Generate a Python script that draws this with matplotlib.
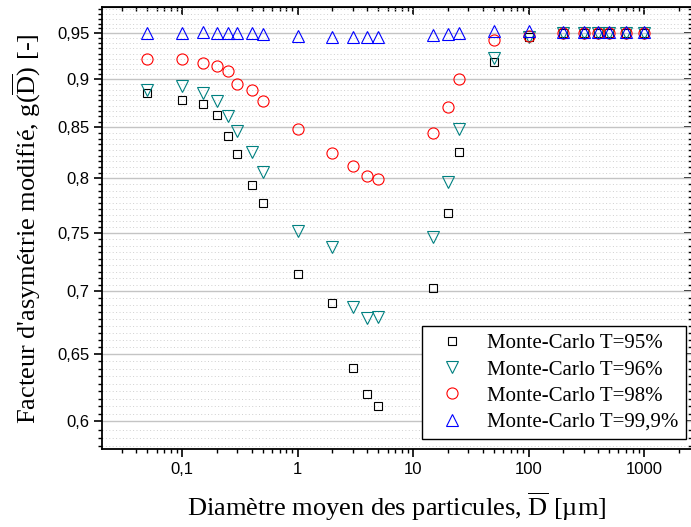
import numpy as np
import matplotlib
matplotlib.use('Agg')
from matplotlib import pyplot as plt
from matplotlib.ticker import FixedLocator, LogLocator, NullFormatter

plt.rcParams['mathtext.fontset'] = 'custom'
plt.rcParams['mathtext.rm'] = 'Liberation Serif'

# particle mean diameters (um)
diam = [0.05, 0.1, 0.15, 0.2, 0.25, 0.3, 0.4, 0.5, 1, 2, 3, 4, 5,
        15, 20, 25, 50, 100, 200, 300, 400, 500, 700, 1000]

g_95 = [0.885, 0.878, 0.874, 0.862, 0.841, 0.823, 0.794, 0.777, 0.714, 0.690,
        0.639, 0.620, 0.611, 0.703, 0.768, 0.825, 0.918, 0.946,
        0.950, 0.950, 0.950, 0.950, 0.950, 0.950]
g_96 = [0.888, 0.893, 0.885, 0.877, 0.861, 0.846, 0.825, 0.806, 0.752, 0.738,
        0.687, 0.678, 0.679, 0.746, 0.797, 0.848, 0.923, 0.946,
        0.950, 0.950, 0.950, 0.950, 0.950, 0.950]
g_98 = [0.921, 0.921, 0.917, 0.914, 0.908, 0.895, 0.888, 0.877, 0.848, 0.824,
        0.812, 0.802, 0.799, 0.844, 0.871, 0.900, 0.942, 0.947,
        0.950, 0.950, 0.950, 0.950, 0.950, 0.950]
g_999 = [0.950, 0.950, 0.951, 0.950, 0.950, 0.950, 0.950, 0.949, 0.947, 0.946,
         0.946, 0.946, 0.946, 0.948, 0.949, 0.950, 0.952, 0.952,
         0.951, 0.951, 0.951, 0.951, 0.951, 0.951]

labels = ['Monte-Carlo T=95%', 'Monte-Carlo T=96%',
          'Monte-Carlo T=98%', 'Monte-Carlo T=99,9%']

y_ticks = [0.6, 0.65, 0.7, 0.75, 0.8, 0.85, 0.9, 0.95]
y_ticklabels = ['0,6', '0,65', '0,7', '0,75', '0,8', '0,85', '0,9', '0,95']
x_ticks = [0.1, 1, 10, 100, 1000]
x_ticklabels = ['0,1', '1', '10', '100', '1000']

fig = plt.figure(figsize=(6.91, 5.27), dpi=100)
ax = fig.add_axes([0.1476, 0.1471, 0.8538, 0.8391])

series = [
    (g_95, 's', '#000000', 6.0),
    (g_96, 'v', '#008080', 8.0),
    (g_98, 'o', '#ff0000', 8.0),
    (g_999, '^', '#0000ff', 8.0),
]
for (vals, mk, col, ms), lab in zip(series, labels):
    ax.plot(diam, vals, linestyle='none', marker=mk, markersize=ms,
            markerfacecolor='none', markeredgecolor=col,
            markeredgewidth=0.8, label=lab)

ax.set_xscale('log')
ax.set_yscale('log')
ax.set_xlim(0.0202, 2600)
ax.set_ylim(0.5804, 0.9797)

# y minor ticks: 8 evenly spaced (log) between majors
majors = [0.55 + 0.05 * i for i in range(10)]
minors = []
for a, b in zip(majors[:-1], majors[1:]):
    for k in range(1, 9):
        minors.append(a * (b / a) ** (k / 9))
ax.yaxis.set_major_locator(FixedLocator(y_ticks))
ax.yaxis.set_minor_locator(FixedLocator(minors))
ax.set_yticks(y_ticks, y_ticklabels)
ax.yaxis.set_minor_formatter(NullFormatter())
ax.xaxis.set_major_locator(FixedLocator(x_ticks))
ax.set_xticks(x_ticks, x_ticklabels)
ax.xaxis.set_minor_locator(LogLocator(base=10, subs=np.arange(2, 10)))
ax.xaxis.set_minor_formatter(NullFormatter())

ax.grid(True, which='major', axis='y', color='#c4c4c4', linewidth=1.0)
ax.grid(True, which='minor', axis='y', color='#cfcfcf', linewidth=0.7,
        linestyle=(0, (1, 2.5)))
ax.set_axisbelow(True)

for s in ax.spines.values():
    s.set_linewidth(1.3)
ax.tick_params(axis='both', which='major', direction='out', length=6,
               width=1.2, labelsize=12, pad=3)
ax.tick_params(axis='both', which='minor', direction='out', length=3, width=1.0)
for lab in ax.get_xticklabels() + ax.get_yticklabels():
    lab.set_family('Liberation Sans')

# mirrored ticks on top and right, pointing inward
top = ax.secondary_xaxis('top')
top.set_xticks(x_ticks, [])
top.xaxis.set_minor_locator(LogLocator(base=10, subs=np.arange(2, 10)))
top.xaxis.set_minor_formatter(NullFormatter())
top.tick_params(which='major', direction='in', length=6, width=1.2)
top.tick_params(which='minor', direction='in', length=3, width=1.0)
right = ax.secondary_yaxis('right')
right.set_yticks(y_ticks, [])
right.yaxis.set_minor_locator(FixedLocator(minors))
right.yaxis.set_minor_formatter(NullFormatter())
right.tick_params(which='major', direction='in', length=6, width=1.2)
right.tick_params(which='minor', direction='in', length=3, width=1.0)

ax.set_xlabel(r'Diamètre moyen des particules, $\overline{\mathrm{D}}$ [µm]',
              family='Liberation Serif', fontsize=19, labelpad=10)
ax.set_ylabel(r"Facteur d'asymétrie modifié, g($\overline{\mathrm{D}}$) [-]",
              family='Liberation Serif', fontsize=19, labelpad=10)

leg = ax.legend(loc='lower right', bbox_to_anchor=(0.99, 0.023),
                prop={'family': 'Liberation Serif', 'size': 15},
                numpoints=1, handlelength=2.2, handletextpad=0.6,
                labelspacing=0.32, borderpad=0.35, fancybox=False,
                framealpha=1, edgecolor='#000000', borderaxespad=0)
leg.get_frame().set_linewidth(1.0)

fig.savefig('out.png', dpi=100)
